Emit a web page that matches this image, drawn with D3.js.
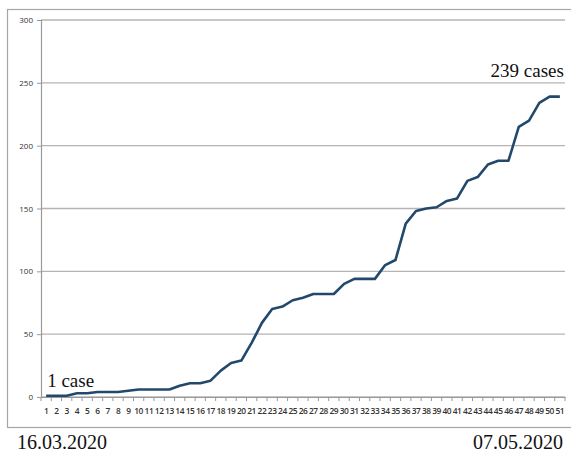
<!DOCTYPE html>
<html>
<head>
<meta charset="utf-8">
<script src="https://cdn.jsdelivr.net/npm/d3@7"></script>
<style>
  body{margin:0;background:#fff;}
  svg{display:block;}
</style>
</head>
<body>
<svg id="chart" width="571" height="457"></svg>
<script>
const days=d3.range(1,52);
const cases=[1,1,1,3,3,4,4,4,5,6,6,6,6,9,11,11,13,21,27,29,43,59,70,72,77,79,82,82,82,90,
  94,94,94,105,109,138,148,150,151,156,158,172,175,185,188,188,215,220,234,239,239];
const yTicks=[0,50,100,150,200,250,300];
const startDate="16.03.2020", endDate="07.05.2020";
const firstNote="1 case", lastNote="239 cases";

const svg=d3.select("#chart");
const W=571,H=457;
const m={top:20,right:6,bottom:60,left:41};

// outer frame like the excel chart area
svg.append("rect")
  .attr("x",7.5).attr("y",9.5).attr("width",568).attr("height",418)
  .attr("fill","#fff").attr("stroke","#a6a6a6").attr("stroke-width",1.2);

const x=d3.scaleBand().domain(days).range([m.left,W-m.right]);
const y=d3.scaleLinear().domain([0,300]).range([H-m.bottom,m.top]);

// gridlines
svg.append("g").selectAll("line")
  .data(yTicks).join("line")
  .attr("x1",m.left).attr("x2",W-m.right)
  .attr("y1",d=>y(d)).attr("y2",d=>y(d))
  .attr("stroke","#b4b4b4").attr("stroke-width",1.4);

// y axis
const ya=svg.append("g").attr("transform",`translate(${m.left},0)`)
  .call(d3.axisLeft(y).tickValues(yTicks).tickSize(4).tickPadding(4));
ya.select(".domain").attr("stroke","#999").attr("stroke-width",1.2);
ya.selectAll(".tick line").attr("stroke","#999");
ya.selectAll("text").attr("font-family","'Open Sans',sans-serif").attr("font-size","8px").attr("fill","#333");

// x axis, ticks at band boundaries
const xa=svg.append("g").attr("transform",`translate(0,${y(0)})`)
  .call(d3.axisBottom(x).tickSize(0).tickPadding(11));
xa.select(".domain").attr("stroke","#999").attr("stroke-width",1.2);
xa.selectAll("text").attr("font-family","'Open Sans',sans-serif").attr("font-size","8.4px")
  .attr("font-weight","600").attr("fill","#333").attr("letter-spacing","-0.45px");
svg.append("g").selectAll("line")
  .data(days.concat([null])).join("line")
  .attr("x1",(d,i)=>m.left+i*x.bandwidth()).attr("x2",(d,i)=>m.left+i*x.bandwidth())
  .attr("y1",y(0)).attr("y2",y(0)+4)
  .attr("stroke","#999");

// line
const cx=d=>x(d)+x.bandwidth()/2;
svg.append("path")
  .datum(days)
  .attr("fill","none").attr("stroke","#22496b").attr("stroke-width",2.6)
  .attr("stroke-linejoin","round")
  .attr("d",d3.line().x(cx).y((d,i)=>y(cases[i])));

// annotations
const serif="'Liberation Serif','Times New Roman',serif";
svg.append("text").attr("x",cx(1)+1).attr("y",y(cases[0])-9)
  .attr("font-family",serif).attr("font-size","19px").attr("fill","#111").text(firstNote);
svg.append("text").attr("x",cx(51)+4).attr("y",y(cases[50])-20)
  .attr("text-anchor","end")
  .attr("font-family",serif).attr("font-size","19px").attr("fill","#111").text(lastNote);
svg.append("text").attr("x",17).attr("y",449)
  .attr("font-family",serif).attr("font-size","20px").attr("fill","#111").text(startDate);
svg.append("text").attr("x",563).attr("y",449).attr("text-anchor","end")
  .attr("font-family",serif).attr("font-size","20px").attr("fill","#111").text(endDate);
</script>
</body>
</html>
